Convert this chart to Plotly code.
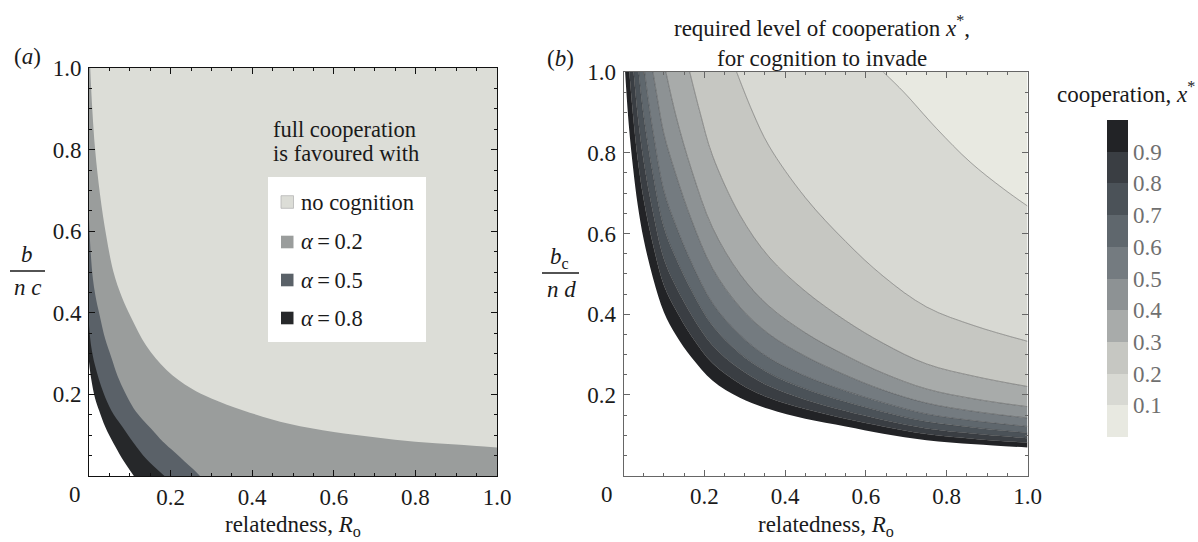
import plotly.graph_objects as go

W, H = 1198, 542
FONT = "Liberation Serif"
TXT = "#1a1a1a"
FS = 23

# ---------------- Panel (a): region boundaries (relatedness R, b/(n c)) ----------------
R_NOCOG = [0.003, 0.008, 0.015, 0.027, 0.042, 0.06, 0.08, 0.105, 0.14, 0.19, 0.25, 0.30, 0.38, 0.49, 0.6, 0.7, 0.8, 0.9, 1.0]
Y_NOCOG = [1.0, 0.9, 0.8, 0.69, 0.59, 0.5, 0.44, 0.385, 0.32, 0.26, 0.215, 0.19, 0.16, 0.128, 0.108, 0.095, 0.084, 0.077, 0.070]

R_ALPHA02 = [0.0, 0.004, 0.01, 0.018, 0.027, 0.04, 0.055, 0.07, 0.088, 0.11, 0.13, 0.153, 0.18, 0.21, 0.235, 0.255, 0.272]
Y_ALPHA02 = [0.63, 0.55, 0.48, 0.43, 0.39, 0.335, 0.29, 0.245, 0.205, 0.165, 0.14, 0.115, 0.085, 0.058, 0.035, 0.017, 0.0]

R_ALPHA05 = [0.0, 0.005, 0.015, 0.035, 0.055, 0.08, 0.11, 0.14, 0.185]
Y_ALPHA05 = [0.37, 0.32, 0.27, 0.205, 0.16, 0.123, 0.08, 0.042, 0.0]

R_ALPHA08 = [0.0, 0.005, 0.015, 0.025, 0.04, 0.06, 0.08, 0.11]
Y_ALPHA08 = [0.28, 0.24, 0.19, 0.16, 0.12, 0.08, 0.045, 0.0]

LEGEND_LABELS = ["no cognition", "<i>α</i>\u2009=\u20090.2", "<i>α</i>\u2009=\u20090.5", "<i>α</i>\u2009=\u20090.8"]
COL_NOCOG, COL_A02, COL_A05, COL_A08 = "#dcddd7", "#9a9d9c", "#5a6168", "#26282a"

# ---------------- Panel (b): contours of x* (relatedness R, b_c/(n d)) ----------------
R_X10 = [0.004, 0.013, 0.024, 0.035, 0.05, 0.073, 0.1, 0.13, 0.169, 0.22, 0.288, 0.36, 0.45, 0.55, 0.643, 0.75, 0.87, 1.0]
Y_X10 = [1.0, 0.87, 0.76, 0.672, 0.585, 0.49, 0.405, 0.348, 0.292, 0.236, 0.193, 0.165, 0.141, 0.122, 0.104, 0.088, 0.078, 0.070]

R_X09 = [0.0145, 0.024, 0.035, 0.05, 0.073, 0.1, 0.13, 0.169, 0.22, 0.288, 0.36, 0.45, 0.55, 0.643, 0.75, 0.87, 1.0]
Y_X09 = [1.0, 0.889, 0.786, 0.684, 0.573, 0.472, 0.41, 0.345, 0.279, 0.228, 0.193, 0.165, 0.141, 0.122, 0.103, 0.091, 0.082]

R_X08 = [0.025, 0.035, 0.05, 0.073, 0.1, 0.13, 0.169, 0.22, 0.288, 0.36, 0.45, 0.55, 0.643, 0.75, 0.87, 1.0]
Y_X08 = [1.0, 0.894, 0.778, 0.652, 0.537, 0.468, 0.397, 0.323, 0.264, 0.222, 0.188, 0.160, 0.138, 0.117, 0.104, 0.093]

R_X07 = [0.0374, 0.05, 0.073, 0.1, 0.13, 0.169, 0.22, 0.288, 0.36, 0.45, 0.55, 0.643, 0.75, 0.87, 1.0]
Y_X07 = [1.0, 0.889, 0.745, 0.615, 0.538, 0.457, 0.372, 0.303, 0.254, 0.215, 0.183, 0.158, 0.134, 0.119, 0.106]

R_X06 = [0.0524, 0.06, 0.073, 0.1, 0.13, 0.169, 0.22, 0.288, 0.36, 0.45, 0.55, 0.643, 0.75, 0.87, 1.0]
Y_X06 = [1.0, 0.94, 0.853, 0.706, 0.619, 0.526, 0.428, 0.349, 0.292, 0.247, 0.210, 0.181, 0.153, 0.136, 0.122]

R_X05 = [0.073, 0.085, 0.1, 0.13, 0.169, 0.22, 0.288, 0.36, 0.45, 0.55, 0.643, 0.75, 0.87, 1.0]
Y_X05 = [1.0, 0.928, 0.847, 0.745, 0.632, 0.514, 0.418, 0.351, 0.296, 0.249, 0.212, 0.180, 0.159, 0.143]

R_X04 = [0.105, 0.13, 0.169, 0.22, 0.288, 0.36, 0.45, 0.55, 0.643, 0.75, 0.87, 1.0]
Y_X04 = [1.0, 0.891, 0.756, 0.615, 0.500, 0.420, 0.354, 0.298, 0.254, 0.215, 0.190, 0.171]

R_X03 = [0.164, 0.19, 0.22, 0.288, 0.36, 0.45, 0.55, 0.643, 0.75, 0.87, 1.0]
Y_X03 = [1.0, 0.898, 0.794, 0.646, 0.542, 0.457, 0.384, 0.328, 0.277, 0.246, 0.221]

R_X02 = [0.28, 0.32, 0.36, 0.45, 0.55, 0.643, 0.75, 0.87, 1.0]
Y_X02 = [1.0, 0.90, 0.817, 0.689, 0.580, 0.494, 0.418, 0.371, 0.333]

R_X01 = [0.643, 0.693, 0.775, 0.858, 0.94, 1.0]
Y_X01 = [1.0, 0.951, 0.86, 0.777, 0.711, 0.668]

CB_TICKS = [0.1, 0.2, 0.3, 0.4, 0.5, 0.6, 0.7, 0.8, 0.9]
CB_COLORS = ["#e8e9e1", "#d8d9d3", "#c6c7c2", "#a8abaa", "#8d9294", "#747b80",
             "#5f676d", "#4b5258", "#3a3e43", "#222326"]

X_TICKS = [0.2, 0.4, 0.6, 0.8, 1.0]
Y_TICKS = [0.2, 0.4, 0.6, 0.8, 1.0]
TICK_TEXT = ["0.2", "0.4", "0.6", "0.8", "1.0"]

# ---------------- layout geometry (pixels) ----------------
A = dict(x0=89, x1=497, y0=68, y1=476)
B = dict(x0=623.5, x1=1027.5, y0=72, y1=475.7)


def px(x):
    return x / W


def py(y):
    return 1 - y / H


fig = go.Figure()


def curve(xs, ys, xa, ya, **kw):
    fig.add_trace(go.Scatter(x=xs, y=ys, xaxis=xa, yaxis=ya, mode="lines",
                             hoverinfo="skip", showlegend=False, **kw))


# Panel (a): painter order, each region = area above a boundary
for r, yv, c in [(R_ALPHA08, Y_ALPHA08, COL_A08),
                 (R_ALPHA05, Y_ALPHA05, COL_A05),
                 (R_ALPHA02, Y_ALPHA02, COL_A02)]:
    curve(r, yv, "x", "y", line=dict(width=0, shape="spline"))
    curve([0, 1, 1], [1, 1, 0], "x", "y", line=dict(width=0), fill="tonexty", fillcolor=c)
curve(R_NOCOG, Y_NOCOG, "x", "y", line=dict(width=0, shape="spline"))
curve([R_NOCOG[0], 1], [1, 1], "x", "y", line=dict(width=0), fill="tonexty", fillcolor=COL_NOCOG)

# Panel (b): bands between consecutive contours
LINE = "rgba(60,60,60,0.55)"
curve(R_X10, Y_X10, "x2", "y2", line=dict(width=0, shape="spline"))
contours = [(R_X09, Y_X09), (R_X08, Y_X08), (R_X07, Y_X07), (R_X06, Y_X06), (R_X05, Y_X05),
            (R_X04, Y_X04), (R_X03, Y_X03), (R_X02, Y_X02), (R_X01, Y_X01)]
for i, (r, yv) in enumerate(contours):
    curve(r, yv, "x2", "y2", line=dict(width=0.8, color=LINE, shape="spline"),
          fill="tonexty", fillcolor=CB_COLORS[9 - i])
curve([R_X01[0], 1], [1, 1], "x2", "y2", line=dict(width=0), fill="tonexty", fillcolor=CB_COLORS[0])

# colour bar (discrete)
cs = []
for i, c in enumerate(CB_COLORS):
    cs.append([i / 10, c])
    cs.append([(i + 1) / 10, c])
fig.add_trace(go.Scatter(
    x=[-5], y=[-5], xaxis="x2", yaxis="y2", mode="markers", hoverinfo="skip", showlegend=False,
    marker=dict(color=[0.5], cmin=0, cmax=1, colorscale=cs, showscale=True, size=1,
                colorbar=dict(x=px(1107), xanchor="left", y=py((120 + 437) / 2), yanchor="middle",
                              len=317, lenmode="pixels", thickness=21, thicknessmode="pixels",
                              outlinewidth=0, xpad=0, ypad=0, ticks="",
                              tickvals=CB_TICKS, ticktext=[f"{v:.1f}" for v in CB_TICKS],
                              tickfont=dict(family=FONT, size=FS, color="#707070"))),
))


def axis(domain, linecolor, standoff):
    return dict(domain=domain, range=[0, 1], showline=True, linecolor=linecolor, linewidth=1,
                mirror="allticks", ticks="inside", ticklen=6, tickcolor=linecolor, tickwidth=1,
                showgrid=False, zeroline=False, fixedrange=True,
                tickfont=dict(family=FONT, size=FS, color=TXT), ticklabelstandoff=standoff,
                minor=dict(ticks="inside", ticklen=3, dtick=0.05, tick0=0, tickcolor=linecolor,
                           showgrid=False))


xa = axis([px(A["x0"]), px(A["x1"])], "#111111", 0)
xa.update(tickvals=X_TICKS, ticktext=TICK_TEXT, anchor="y")
ya = axis([py(A["y1"]), py(A["y0"])], "#111111", 2)
ya.update(tickvals=Y_TICKS, ticktext=TICK_TEXT, anchor="x")
xb = axis([px(B["x0"]), px(B["x1"])], "#666666", 0)
xb.update(tickvals=X_TICKS, ticktext=TICK_TEXT, anchor="y2")
yb = axis([py(B["y1"]), py(B["y0"])], "#666666", 2)
yb.update(tickvals=Y_TICKS, ticktext=TICK_TEXT, anchor="x2")

ann = []


def text(x, y, s, size=FS, xanchor="center", color=TXT):
    ann.append(dict(x=px(x), y=py(y), xref="paper", yref="paper", text=s, showarrow=False,
                    xanchor=xanchor, yanchor="middle", font=dict(family=FONT, size=size, color=color)))


# origin labels
text(75, 494, "0")
text(607, 494, "0")
# panel labels
text(27, 56, "(<i>a</i>)")
text(560, 58, "(<i>b</i>)")
# x titles
text((A["x0"] + A["x1"]) / 2, 526, "relatedness, <i>R</i><sub>o</sub>")
text((B["x0"] + B["x1"]) / 2, 526, "relatedness, <i>R</i><sub>o</sub>")
# y titles (fractions)
text(27, 255, "<i>b</i>")
text(27, 287, "<i>n c</i>")
text(559, 258, "<i>b</i><sub>c</sub>")
text(561, 289, "<i>n d</i>")
# panel (b) title
text(822, 26, "required level of cooperation <i>x</i><sup>*</sup>,")
text(822, 58, "for cognition to invade")
# colour bar title
text(1197, 92, "cooperation, <i>x</i><sup>*</sup>", xanchor="right")
# panel (a) legend
text(271, 129, "full cooperation", size=22.5, xanchor="left")
text(271, 154, "is favoured with", size=22.5, xanchor="left")
rows = [202, 242, 280, 318]
for yy, lab in zip(rows, LEGEND_LABELS):
    text(299, yy, lab, size=22.5, xanchor="left")

shapes = [
    dict(type="line", xref="paper", yref="paper", x0=px(10), x1=px(45), y0=py(271), y1=py(271),
         line=dict(color=TXT, width=1.6)),
    dict(type="line", xref="paper", yref="paper", x0=px(542), x1=px(579), y0=py(273), y1=py(273),
         line=dict(color=TXT, width=1.6)),
    dict(type="rect", xref="paper", yref="paper", x0=px(268), x1=px(426), y0=py(342), y1=py(177),
         fillcolor="white", line=dict(width=0)),
]
for yy, c in zip(rows, [COL_NOCOG, COL_A02, COL_A05, COL_A08]):
    shapes.append(dict(type="rect", xref="paper", yref="paper", x0=px(281), x1=px(293.5),
                       y0=py(yy + 6.3), y1=py(yy - 6.3), fillcolor=c,
                       line=dict(width=0.8 if c == COL_NOCOG else 0, color="#b5b5b5")))

fig.update_layout(
    width=W, height=H, margin=dict(l=0, r=0, t=0, b=0, pad=0, autoexpand=False),
    paper_bgcolor="white", plot_bgcolor="white",
    xaxis=xa, yaxis=ya, xaxis2=xb, yaxis2=yb,
    annotations=ann, shapes=shapes, showlegend=False,
    font=dict(family=FONT, color=TXT),
)

fig.write_html("out.html")
